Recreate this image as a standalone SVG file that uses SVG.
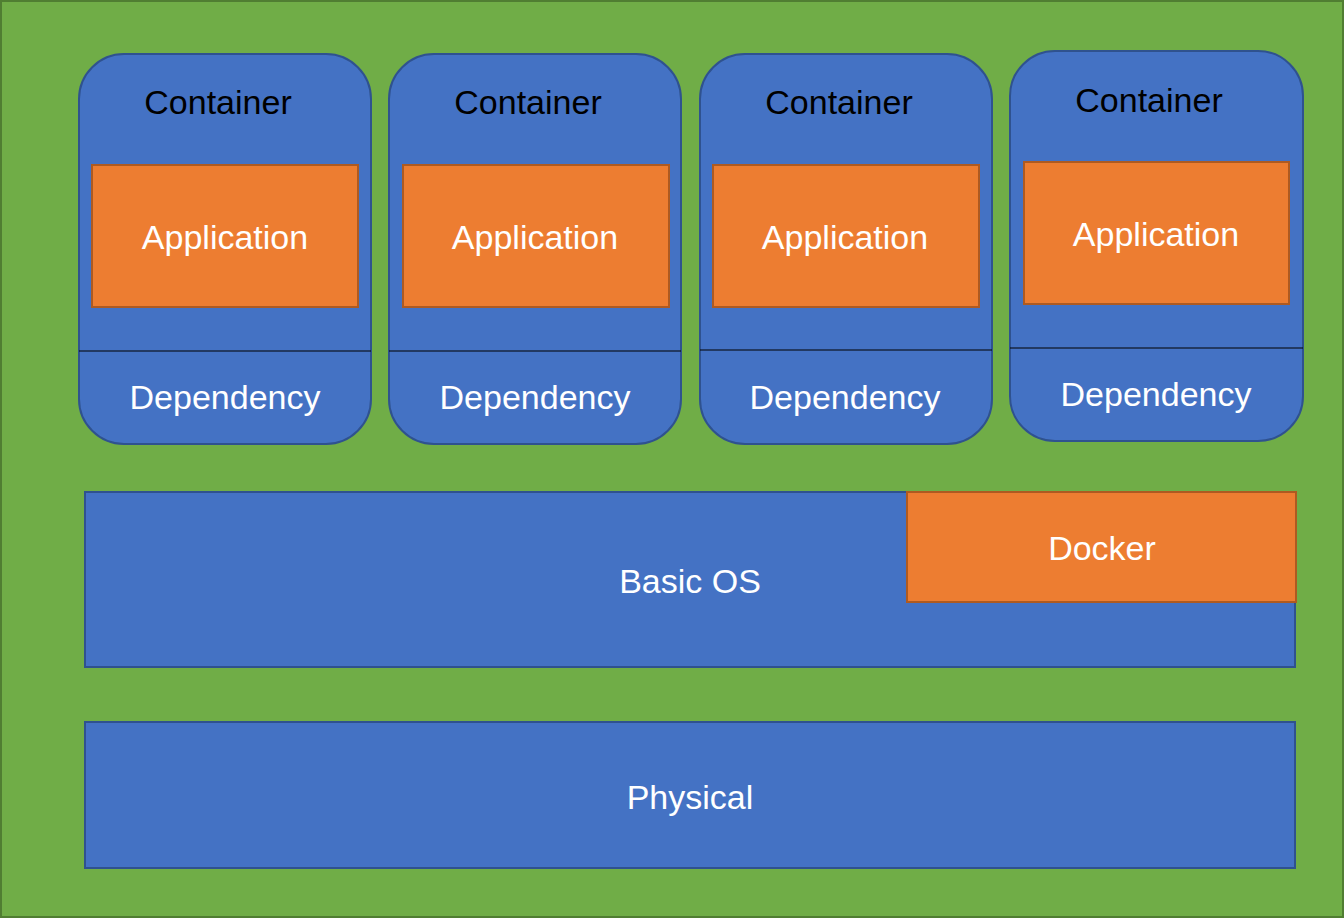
<svg xmlns="http://www.w3.org/2000/svg" width="1344" height="918" viewBox="0 0 1344 918">
<style>
.blue{fill:#4472C4;stroke:#2F528F;stroke-width:2}
.orange{fill:#ED7D31;stroke:#AE5A21;stroke-width:2}
.div{stroke:#000;stroke-width:1.2}
text{font-family:"Liberation Sans",Arial,sans-serif;font-size:34px;text-anchor:middle}
.w{fill:#fff}
.k{fill:#000}
</style>
<rect x="1" y="1" width="1342" height="916" fill="#70AD47" stroke="#507E32" stroke-width="2"/>
<g id="container1">
<rect class="blue" x="79" y="54" width="292" height="390" rx="45" ry="45"/>
<line class="div" x1="79" y1="351" x2="371" y2="351"/>
<text class="k" x="218" y="114">Container</text>
<rect class="orange" x="92" y="165" width="266" height="142"/>
<text class="w" x="225" y="249">Application</text>
<text class="w" x="225" y="409">Dependency</text>
</g>
<g id="container2">
<rect class="blue" x="389" y="54" width="292" height="390" rx="45" ry="45"/>
<line class="div" x1="389" y1="351" x2="681" y2="351"/>
<text class="k" x="528" y="114">Container</text>
<rect class="orange" x="403" y="165" width="266" height="142"/>
<text class="w" x="535" y="249">Application</text>
<text class="w" x="535" y="409">Dependency</text>
</g>
<g id="container3">
<rect class="blue" x="700" y="54" width="292" height="390" rx="45" ry="45"/>
<line class="div" x1="700" y1="350" x2="992" y2="350"/>
<text class="k" x="839" y="114">Container</text>
<rect class="orange" x="713" y="165" width="266" height="142"/>
<text class="w" x="845" y="249">Application</text>
<text class="w" x="845" y="409">Dependency</text>
</g>
<g id="container4">
<rect class="blue" x="1010" y="51" width="293" height="390" rx="45" ry="45"/>
<line class="div" x1="1010" y1="348" x2="1303" y2="348"/>
<text class="k" x="1149" y="112">Container</text>
<rect class="orange" x="1024" y="162" width="265" height="142"/>
<text class="w" x="1156" y="246">Application</text>
<text class="w" x="1156" y="406">Dependency</text>
</g>
<g id="basicos">
<rect class="blue" x="85" y="492" width="1210" height="175"/>
<text class="w" x="690" y="593">Basic OS</text>
</g>
<g id="docker">
<rect class="orange" x="907" y="492" width="389" height="110"/>
<text class="w" x="1102" y="560">Docker</text>
</g>
<g id="physical">
<rect class="blue" x="85" y="722" width="1210" height="146"/>
<text class="w" x="690" y="809">Physical</text>
</g>
<g id="connectors"/>
</svg>
